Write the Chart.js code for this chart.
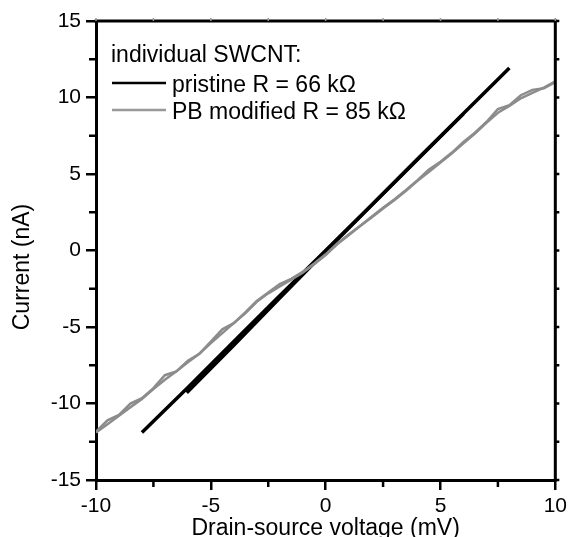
<!DOCTYPE html>
<html>
<head>
<meta charset="utf-8">
<script src="https://cdn.jsdelivr.net/npm/chart.js@4.4.0/dist/chart.umd.min.js"></script>
<style>
  html, body { margin: 0; padding: 0; background: #fff; }
  canvas { display: block; }
</style>
</head>
<body>
<canvas id="iv" width="571" height="537"></canvas>
<script>
// I-V curves (mV, nA)
const pristineX = [-8, -6, -4, -2, 0, 2, 4, 6, 8];
const pristineY = [-11.9, -8.95, -5.95, -2.95, 0, 2.98, 5.98, 8.95, 11.93];
const pristineBackX = [-6.05, -4, -2, 0, 2, 4, 6];
const pristineBackY = [-9.3, -6.2, -3.1, -0.05, 2.95, 5.95, 8.93];

const modifiedX = [-10, -9.5, -9, -8.5, -8, -7.5, -7, -6.5, -6, -5.5, -5, -4.5, -4, -3.5, -3, -2.5, -2, -1.5, -1, -0.5,
  0, 0.5, 1, 1.5, 2, 2.5, 3, 3.5, 4, 4.5, 5, 5.5, 6, 6.5, 7, 7.5, 8, 8.5, 9, 9.5, 10];
const modifiedY = [-11.9, -11.35, -10.8, -10.25, -9.7, -9.05, -8.45, -7.9, -7.3, -6.75, -6.05, -5.4, -4.75, -4.1, -3.35, -2.8, -2.35, -1.9, -1.45, -0.9,
  -0.3, 0.4, 1.0, 1.6, 2.15, 2.75, 3.3, 3.9, 4.55, 5.15, 5.75, 6.35, 7.0, 7.65, 8.35, 9.0, 9.45, 9.95, 10.3, 10.65, 11.05];
const modifiedBackY = [-11.85, -11.1, -10.75, -10.0, -9.65, -9.0, -8.15, -7.9, -7.2, -6.75, -5.95, -5.15, -4.75, -4.05, -3.3, -2.75, -2.2, -1.85, -1.4, -0.85,
  -0.25, 0.45, 1.05, 1.6, 2.2, 2.8, 3.35, 3.95, 4.6, 5.3, 5.8, 6.4, 7.1, 7.7, 8.4, 9.25, 9.5, 10.15, 10.5, 10.6, 11.0];

const xTicks = [-10, -5, 0, 5, 10];
const yTicks = [-15, -10, -5, 0, 5, 10, 15];
const xMinor = [-7.5, -2.5, 2.5, 7.5];
const yMinor = [-12.5, -7.5, -2.5, 2.5, 7.5, 12.5];

const legendTitle = "individual SWCNT:";
const FONT = "'Liberation Sans', Arial, sans-serif";

function pts(xs, ys) {
  return xs.map((x, i) => ({ x: x, y: ys[i] }));
}

// frame, minor ticks, titles and legend
const decorations = {
  id: "decorations",
  afterDatasetsDraw(chart) {
    const ctx = chart.ctx;
    const a = chart.chartArea;
    const xs = chart.scales.x;
    const ys = chart.scales.y;
    ctx.save();
    ctx.strokeStyle = "#000";
    ctx.lineWidth = 3;
    ctx.beginPath();
    ctx.moveTo(a.left - 1.5, a.top);
    ctx.lineTo(a.right, a.top);
    ctx.lineTo(a.right, a.bottom + 1.5);
    ctx.stroke();

    ctx.lineWidth = 2.5;
    ctx.beginPath();
    xMinor.forEach(v => {
      const px = xs.getPixelForValue(v);
      ctx.moveTo(px, a.bottom);
      ctx.lineTo(px, a.bottom + 7);
    });
    yMinor.forEach(v => {
      const py = ys.getPixelForValue(v);
      ctx.moveTo(a.left, py);
      ctx.lineTo(a.left - 7, py);
    });
    // short outer ticks on top and right
    yMinor.concat(yTicks).forEach(v => {
      const py = ys.getPixelForValue(v);
      ctx.moveTo(a.right, py);
      ctx.lineTo(a.right + 4, py);
    });
    ctx.stroke();
    ctx.strokeStyle = "#999";
    ctx.lineWidth = 1.5;
    ctx.beginPath();
    xMinor.concat(xTicks).forEach(v => {
      const px = xs.getPixelForValue(v);
      ctx.moveTo(px, a.top);
      ctx.lineTo(px, a.top - 3);
    });
    ctx.stroke();

    // axis titles
    ctx.fillStyle = "#000";
    ctx.font = "23px " + FONT;
    ctx.textAlign = "center";
    ctx.textBaseline = "alphabetic";
    ctx.fillText("Drain-source voltage (mV)", (a.left + a.right) / 2, 535);
    ctx.save();
    ctx.translate(29, 267);
    ctx.rotate(-Math.PI / 2);
    ctx.fillText("Current (nA)", 0, 0);
    ctx.restore();

    // legend
    ctx.textAlign = "left";
    ctx.fillText(legendTitle, 111, 62);
    let row = 0;
    chart.data.datasets.forEach(ds => {
      if (!ds.legendText) return;
      const y = 83 + row * 27;
      ctx.strokeStyle = ds.legendColor;
      ctx.lineWidth = 2.5;
      ctx.beginPath();
      ctx.moveTo(112, y);
      ctx.lineTo(166, y);
      ctx.stroke();
      ctx.fillStyle = "#000";
      ctx.fillText(ds.legendText, 172, y + 9);
      row++;
    });
    ctx.restore();
  }
};

const lineDefaults = { showLine: true, pointRadius: 0, tension: 0, fill: false };

new Chart(document.getElementById("iv"), {
  type: "scatter",
  data: {
    datasets: [
      Object.assign({ data: pts(modifiedX, modifiedBackY), borderColor: "#8c8c8c", borderWidth: 2.5 }, lineDefaults),
      Object.assign({ data: pts(modifiedX, modifiedY), borderColor: "#8c8c8c", borderWidth: 2.5 }, lineDefaults),
      Object.assign({ data: pts(pristineBackX, pristineBackY), borderColor: "#000", borderWidth: 3.5 }, lineDefaults),
      Object.assign({ data: pts(pristineX, pristineY), borderColor: "#000", borderWidth: 3.5,
        legendText: "pristine R = 66 k\u03A9", legendColor: "#000" }, lineDefaults),
      Object.assign({ data: [], borderColor: "#999",
        legendText: "PB modified R = 85 k\u03A9", legendColor: "#999" }, lineDefaults)
    ]
  },
  options: {
    responsive: false,
    animation: false,
    layout: { padding: { top: 21, right: 15, left: 0, bottom: 0 } },
    plugins: { legend: { display: false }, tooltip: { enabled: false } },
    scales: {
      x: {
        type: "linear",
        min: -10,
        max: 10,
        afterFit: s => { s.height = 57; },
        afterBuildTicks: s => { s.ticks = xTicks.map(v => ({ value: v })); },
        ticks: { color: "#000", font: { size: 21, family: FONT }, padding: 4, maxRotation: 0 },
        grid: { drawOnChartArea: false, drawTicks: true, tickLength: 10, color: "#000", lineWidth: 2.5 },
        border: { display: true, color: "#000", width: 3 }
      },
      y: {
        type: "linear",
        min: -15,
        max: 15,
        afterFit: s => { s.width = 96; },
        afterBuildTicks: s => { s.ticks = yTicks.map(v => ({ value: v })); },
        ticks: { color: "#000", font: { size: 21, family: FONT }, padding: 5 },
        grid: { drawOnChartArea: false, drawTicks: true, tickLength: 10, color: "#000", lineWidth: 2.5 },
        border: { display: true, color: "#000", width: 3 }
      }
    }
  },
  plugins: [decorations]
});
</script>
</body>
</html>
